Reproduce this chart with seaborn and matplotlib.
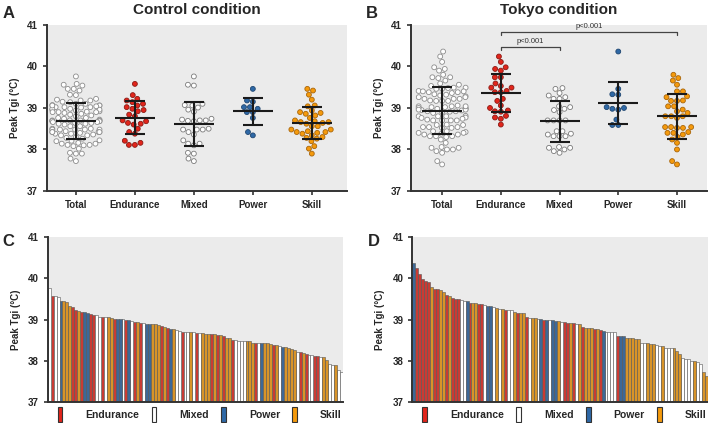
import matplotlib
matplotlib.use("Agg")
import matplotlib.pyplot as plt
import seaborn as sns
import numpy as np
import pandas as pd
from matplotlib.patches import Patch

# ---- data (peak Tgi, degC) ----
groups = ["Endurance", "Mixed", "Power", "Skill"]
categories = ["Total"] + groups

ctrl_endurance = [39.58, 39.31, 39.22, 39.18, 39.14, 39.10, 39.06, 39.02, 38.98, 38.95,
                  38.92, 38.84, 38.80, 38.70, 38.68, 38.64, 38.62, 38.60, 38.50, 38.42,
                  38.38, 38.21, 38.16, 38.11, 38.11]
ctrl_mixed = [39.76, 39.56, 39.54, 39.10, 39.07, 39.06, 39.01, 38.96, 38.91, 38.74,
              38.72, 38.70, 38.70, 38.69, 38.68, 38.50, 38.48, 38.48, 38.48, 38.42,
              38.36, 38.22, 38.14, 38.14, 38.10, 37.92, 37.90, 37.78, 37.72]
ctrl_power = [39.46, 39.18, 39.15, 39.02, 39.02, 38.98, 38.90, 38.90, 38.76, 38.42, 38.34]
ctrl_skill = [39.46, 39.42, 39.32, 39.20, 39.06, 39.04, 38.94, 38.90, 38.88, 38.86,
              38.82, 38.76, 38.70, 38.68, 38.66, 38.66, 38.64, 38.62, 38.56, 38.56,
              38.48, 38.48, 38.44, 38.42, 38.42, 38.40, 38.38, 38.34, 38.30, 38.28,
              38.26, 38.20, 38.08, 38.02, 37.90]

tokyo_endurance = [40.24, 40.11, 39.98, 39.94, 39.90, 39.74, 39.74, 39.59, 39.53, 39.49,
                   39.49, 39.41, 39.38, 39.38, 39.22, 39.17, 39.06, 39.00, 38.94, 38.92,
                   38.91, 38.81, 38.77, 38.74, 38.60]
tokyo_mixed = [39.48, 39.46, 39.36, 39.30, 39.26, 39.22, 39.22, 39.04, 39.02, 38.98,
               38.95, 38.90, 38.70, 38.70, 38.70, 38.70, 38.44, 38.44, 38.38, 38.36,
               38.32, 38.32, 38.32, 38.06, 38.04, 38.04, 38.00, 37.96, 37.92]
tokyo_power = [40.36, 39.46, 39.33, 39.32, 39.02, 39.00, 38.98, 38.96, 38.72, 38.59, 38.59]
tokyo_skill = [39.80, 39.72, 39.66, 39.56, 39.40, 39.40, 39.28, 39.26, 39.18, 39.17,
               39.17, 39.04, 39.04, 38.96, 38.92, 38.88, 38.80, 38.80, 38.80, 38.76,
               38.54, 38.54, 38.54, 38.52, 38.52, 38.42, 38.40, 38.40, 38.36, 38.30,
               38.24, 38.16, 38.00, 37.72, 37.64]

fill_colors = {"Total": "white", "Endurance": "#E2251B", "Mixed": "white",
               "Power": "#2E68A6", "Skill": "#F59A0C"}
edge_colors = {"Total": "#8C8C8C", "Endurance": "#8A1A14", "Mixed": "#7A7A7A",
               "Power": "#1F4670", "Skill": "#A8650A"}


def long_table(values_by_group):
    rows = []
    for g, vals in zip(groups, values_by_group):
        for v in vals:
            rows.append({"group": g, "temp": v})
    df = pd.DataFrame(rows)
    tot = df.copy()
    tot["cat"] = "Total"
    df["cat"] = df["group"]
    return pd.concat([tot, df], ignore_index=True)


ctrl = long_table([ctrl_endurance, ctrl_mixed, ctrl_power, ctrl_skill])
tokyo = long_table([tokyo_endurance, tokyo_mixed, tokyo_power, tokyo_skill])

sns.set_style("ticks")
plt.rcParams["font.family"] = ["Liberation Sans", "DejaVu Sans"]
plt.rcParams["font.weight"] = "bold"
plt.rcParams["axes.linewidth"] = 1.4
plt.rcParams["axes.edgecolor"] = "#333333"

fig = plt.figure(figsize=(7.08, 4.23), dpi=100)
axA = fig.add_axes([0.0664, 0.5485, 0.424, 0.3925])
axB = fig.add_axes([0.5805, 0.5485, 0.418, 0.3925])
axC = fig.add_axes([0.0674, 0.0496, 0.417, 0.3901])
axD = fig.add_axes([0.5824, 0.0496, 0.4176, 0.3901])

BG = "#EBEBEB"


def style_axis(ax):
    ax.set_facecolor(BG)
    sns.despine(ax=ax)
    ax.set_ylim(37, 41)
    ax.set_yticks([37, 38, 39, 40, 41])
    ax.tick_params(axis="both", labelsize=7, width=1.2, length=3, color="#333333")
    for lab in ax.get_yticklabels() + ax.get_xticklabels():
        lab.set_fontweight("bold")
    ax.set_ylabel("Peak Tgi (°C)", fontsize=7, fontweight="bold", labelpad=5)


def dot_panel(ax, df, title, xlim):
    sns.swarmplot(data=df, x="cat", y="temp", hue="cat", order=categories,
                  hue_order=categories, palette=fill_colors, size=3.5,
                  linewidth=0.6, legend=False, ax=ax)
    for coll, cat in zip(ax.collections, categories):
        coll.set_edgecolor(edge_colors[cat])
    stats = df.groupby("cat")["temp"].agg(["mean", "std"]).reindex(categories)
    xs = np.arange(len(categories))
    ax.hlines(stats["mean"], xs - 0.34, xs + 0.34, color="#1A1A1A", lw=1.5, zorder=5)
    ax.hlines(stats["mean"] - stats["std"], xs - 0.17, xs + 0.17, color="#1A1A1A", lw=1.5, zorder=5)
    ax.hlines(stats["mean"] + stats["std"], xs - 0.17, xs + 0.17, color="#1A1A1A", lw=1.5, zorder=5)
    ax.vlines(xs, stats["mean"] - stats["std"], stats["mean"] + stats["std"],
              color="#1A1A1A", lw=1.5, zorder=5)
    ax.set_xlim(*xlim)
    ax.set_xlabel("")
    ax.set_title(title, fontsize=11, fontweight="bold", pad=8)
    style_axis(ax)


def bar_panel(ax, df):
    d = df[df["cat"] != "Total"].sort_values("temp", ascending=False, kind="stable")
    d = d.reset_index(drop=True)
    d["rank"] = d.index
    sns.barplot(data=d, x="rank", y="temp", hue="group", hue_order=groups,
                palette=fill_colors, dodge=False, width=1.0, edgecolor="#555555",
                linewidth=0.4, legend=False, ax=ax)
    ax.set_xlim(-0.5, len(d) - 0.5)
    ax.set_xticks([])
    ax.set_xlabel("")
    style_axis(ax)
    handles = [Patch(facecolor=fill_colors[g], edgecolor="#333333", linewidth=0.8, label=g)
               for g in groups]
    ax.legend(handles=handles, loc="upper left", bbox_to_anchor=(0.02, -0.005, 0.99, 0.0),
              mode="expand", ncol=4, frameon=False, handlelength=0.45,
              handleheight=1.9, handletextpad=2.2, borderaxespad=0.0,
              prop={"size": 7.5, "weight": "bold"})


dot_panel(axA, ctrl, "Control condition", (-0.49, 4.6))
dot_panel(axB, tokyo, "Tokyo condition", (-0.53, 4.51))
bar_panel(axC, ctrl)
bar_panel(axD, tokyo)

# significance brackets, Tokyo panel
brackets = [(1, 2, 40.46, "p<0.001"), (1, 4, 40.82, "p<0.001")]
for x0, x1, yb, txt in brackets:
    axB.plot([x0, x0, x1, x1], [yb - 0.07, yb, yb, yb - 0.07], color="#444444", lw=0.9,
             clip_on=False)
    axB.text((x0 + x1) / 2, yb + 0.05, txt, ha="center", va="bottom", fontsize=5.5,
             fontweight="normal", color="#333333", clip_on=False)

for letter, x, y in [("A", 0.004, 0.968), ("B", 0.517, 0.968), ("C", 0.004, 0.43), ("D", 0.519, 0.43)]:
    fig.text(x, y, letter, fontsize=12, fontweight="bold", va="center", ha="left")

fig.savefig("out.png", dpi=100)
